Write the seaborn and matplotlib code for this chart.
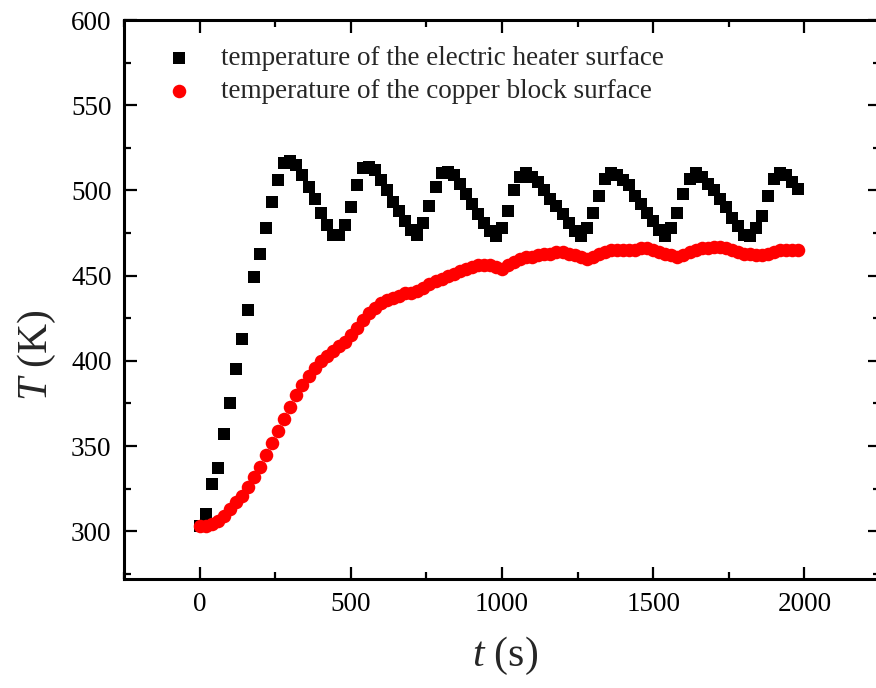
import matplotlib
matplotlib.use("Agg")
import matplotlib.pyplot as plt
import seaborn as sns
import pandas as pd

# Sampling times (s)
time_s = [
    0, 20, 40, 60, 80, 100, 120, 140, 160, 180,
    200, 220, 240, 260, 280, 300, 320, 340, 360, 380,
    400, 420, 440, 460, 480, 500, 520, 540, 560, 580,
    600, 620, 640, 660, 680, 700, 720, 740, 760, 780,
    800, 820, 840, 860, 880, 900, 920, 940, 960, 980,
    1000, 1020, 1040, 1060, 1080, 1100, 1120, 1140, 1160, 1180,
    1200, 1220, 1240, 1260, 1280, 1300, 1320, 1340, 1360, 1380,
    1400, 1420, 1440, 1460, 1480, 1500, 1520, 1540, 1560, 1580,
    1600, 1620, 1640, 1660, 1680, 1700, 1720, 1740, 1760, 1780,
    1800, 1820, 1840, 1860, 1880, 1900, 1920, 1940, 1960, 1980,
]

# Electric heater surface temperature (K)
heater_T = [
    303, 310, 328, 337, 357, 375, 395, 413, 430, 449,
    463, 478, 493, 506, 516, 517, 515, 509, 502, 495,
    487, 480, 474, 474, 480, 490, 503, 513, 514, 512,
    506, 500, 493, 488, 482, 477, 474, 481, 491, 502,
    510, 511, 509, 504, 498, 492, 486, 481, 476, 473,
    478, 488, 500, 508, 510, 508, 505, 500, 495, 491,
    486, 481, 476, 473, 478, 487, 497, 507, 510, 509,
    506, 503, 497, 492, 487, 482, 477, 473, 478, 487,
    498, 507, 510, 508, 504, 500, 495, 490, 484, 479,
    474, 473, 478, 485, 497, 507, 510, 509, 505, 501,
]

# Copper block surface temperature (K)
copper_T = [
    303, 303, 304, 306, 309, 313, 317, 321, 326, 332,
    338, 345, 352, 359, 366, 373, 380, 386, 391, 396,
    400, 403, 406, 409, 411, 415, 419, 424, 428, 431,
    434, 436, 437, 438, 440, 440, 441, 443, 445, 447,
    448, 450, 451, 453, 454, 455, 456, 456, 456, 455,
    454, 456, 458, 460, 461, 461, 462, 463, 463, 464,
    464, 463, 462, 461, 460, 461, 463, 464, 465, 465,
    465, 465, 465, 466, 466, 465, 464, 463, 462, 461,
    462, 464, 465, 466, 466, 467, 467, 466, 465, 464,
    463, 463, 462, 462, 463, 464, 465, 465, 465, 465,
]

labels = [
    "temperature of the electric heater surface",
    "temperature of the copper block surface",
]
x_ticks = [0, 500, 1000, 1500, 2000]
y_ticks = [300, 350, 400, 450, 500, 550, 600]

sns.set_style("ticks")
plt.rcParams["font.family"] = ["Liberation Serif", "DejaVu Serif"]
plt.rcParams["mathtext.fontset"] = "custom"
plt.rcParams["mathtext.rm"] = "Liberation Serif"
plt.rcParams["mathtext.it"] = "Liberation Serif:italic"

df_heater = pd.DataFrame({"t": time_s, "T": heater_T})
df_copper = pd.DataFrame({"t": time_s, "T": copper_T})

fig = plt.figure(figsize=(8.76, 6.88), dpi=100)
ax = fig.add_axes([0.1416, 0.1584, 0.863, 0.8125])

sns.scatterplot(data=df_heater, x="t", y="T", ax=ax, marker="s", color="black",
                s=78, linewidth=0, label=labels[0], zorder=3)
sns.scatterplot(data=df_copper, x="t", y="T", ax=ax, marker="o", color="#ff0000",
                s=95, linewidth=0, label=labels[1], zorder=4)

ax.set_xlim(-250, 2250)
ax.set_ylim(272, 600)
ax.set_xticks(x_ticks)
ax.set_yticks(y_ticks)
ax.set_xticks([-250, 250, 750, 1250, 1750, 2250], minor=True)
ax.set_yticks([275, 325, 375, 425, 475, 525, 575], minor=True)

ax.tick_params(which="both", direction="in", top=True, right=True,
               width=1.6, colors="black", labelsize=19.5, pad=9)
ax.tick_params(which="major", length=9)
ax.tick_params(which="minor", length=5)
for sp in ax.spines.values():
    sp.set_linewidth(2.2)
    sp.set_color("black")

ax.set_xlabel("$t$ (s)", fontsize=30)
ax.set_ylabel("$T$ (K)", fontsize=30)
ax.xaxis.set_label_coords(0.504, -0.1)
ax.yaxis.set_label_coords(-0.088, 0.40)

leg = ax.legend(loc="upper left", bbox_to_anchor=(0.058, 0.953), frameon=False,
                fontsize=19.5, handlelength=0.85, handletextpad=1.1,
                labelspacing=0.28, borderpad=0, borderaxespad=0)

fig.savefig("out.png", dpi=100, facecolor="white")
